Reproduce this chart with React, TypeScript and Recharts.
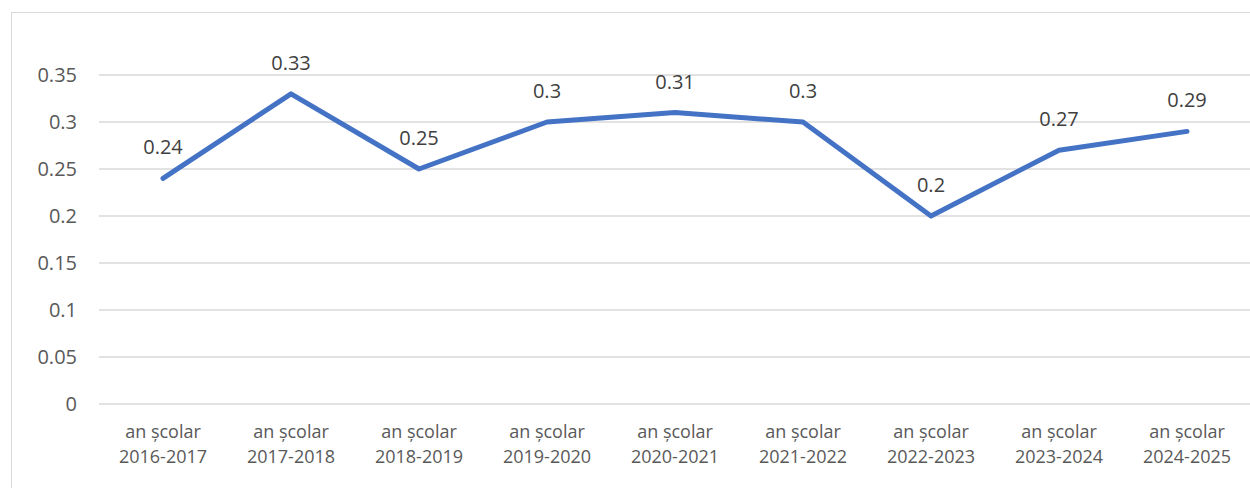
import { CartesianGrid, LabelList, Line, LineChart, XAxis, YAxis } from 'recharts'

const schoolYears = [
  '2016-2017',
  '2017-2018',
  '2018-2019',
  '2019-2020',
  '2020-2021',
  '2021-2022',
  '2022-2023',
  '2023-2024',
  '2024-2025',
]
const rates = [0.24, 0.33, 0.25, 0.3, 0.31, 0.3, 0.2, 0.27, 0.29]
const yTicks = [0, 0.05, 0.1, 0.15, 0.2, 0.25, 0.3, 0.35]
const yearPrefix = 'an școlar'

const data = schoolYears.map((year, i) => ({ name: year, value: rates[i] }))

const font = '"Open Sans", "Noto Sans", sans-serif'
const grey = '#595959'

function YearTick({ x, y, payload }: any) {
  return (
    <text x={x} y={y} textAnchor="middle" fill={grey} fontSize={18} fontFamily={font}>
      <tspan x={x} y={y + 34}>
        {yearPrefix}
      </tspan>
      <tspan x={x} y={y + 59}>
        {payload.value}
      </tspan>
    </text>
  )
}

export default function App() {
  return (
    <div
      style={{
        position: 'absolute',
        left: 0,
        top: 0,
        width: 1250,
        height: 488,
        overflow: 'hidden',
        background: '#fff',
      }}
    >
      <div
        style={{
          position: 'absolute',
          left: 11,
          top: 12,
          width: 1300,
          height: 520,
          border: '1px solid #d9d9d9',
        }}
      />
      <div style={{ position: 'absolute', left: 0, top: 0 }}>
        <LineChart
          width={1252}
          height={488}
          data={data}
          margin={{ top: 75, right: 1, bottom: 24, left: 0 }}
        >
          <CartesianGrid vertical={false} stroke="#d9d9d9" strokeWidth={1.5} />
          <XAxis
            dataKey="name"
            axisLine={false}
            tickLine={false}
            tickSize={0}
            tickMargin={0}
            height={60}
            interval={0}
            padding={{ left: 64, right: 64 }}
            tick={<YearTick />}
          />
          <YAxis
            domain={[0, 0.35]}
            ticks={yTicks}
            width={99}
            axisLine={false}
            tickLine={false}
            tickSize={0}
            tickMargin={22}
            tick={{ fill: grey, fontSize: 20, fontFamily: font }}
          />
          <Line
            type="linear"
            dataKey="value"
            stroke="#4472c4"
            strokeWidth={5}
            strokeLinecap="round"
            strokeLinejoin="round"
            dot={false}
            activeDot={false}
            isAnimationActive={false}
          >
            <LabelList
              dataKey="value"
              position="top"
              offset={24}
              fill="#404040"
              fontSize={20}
              fontFamily={font}
            />
          </Line>
        </LineChart>
      </div>
    </div>
  )
}
